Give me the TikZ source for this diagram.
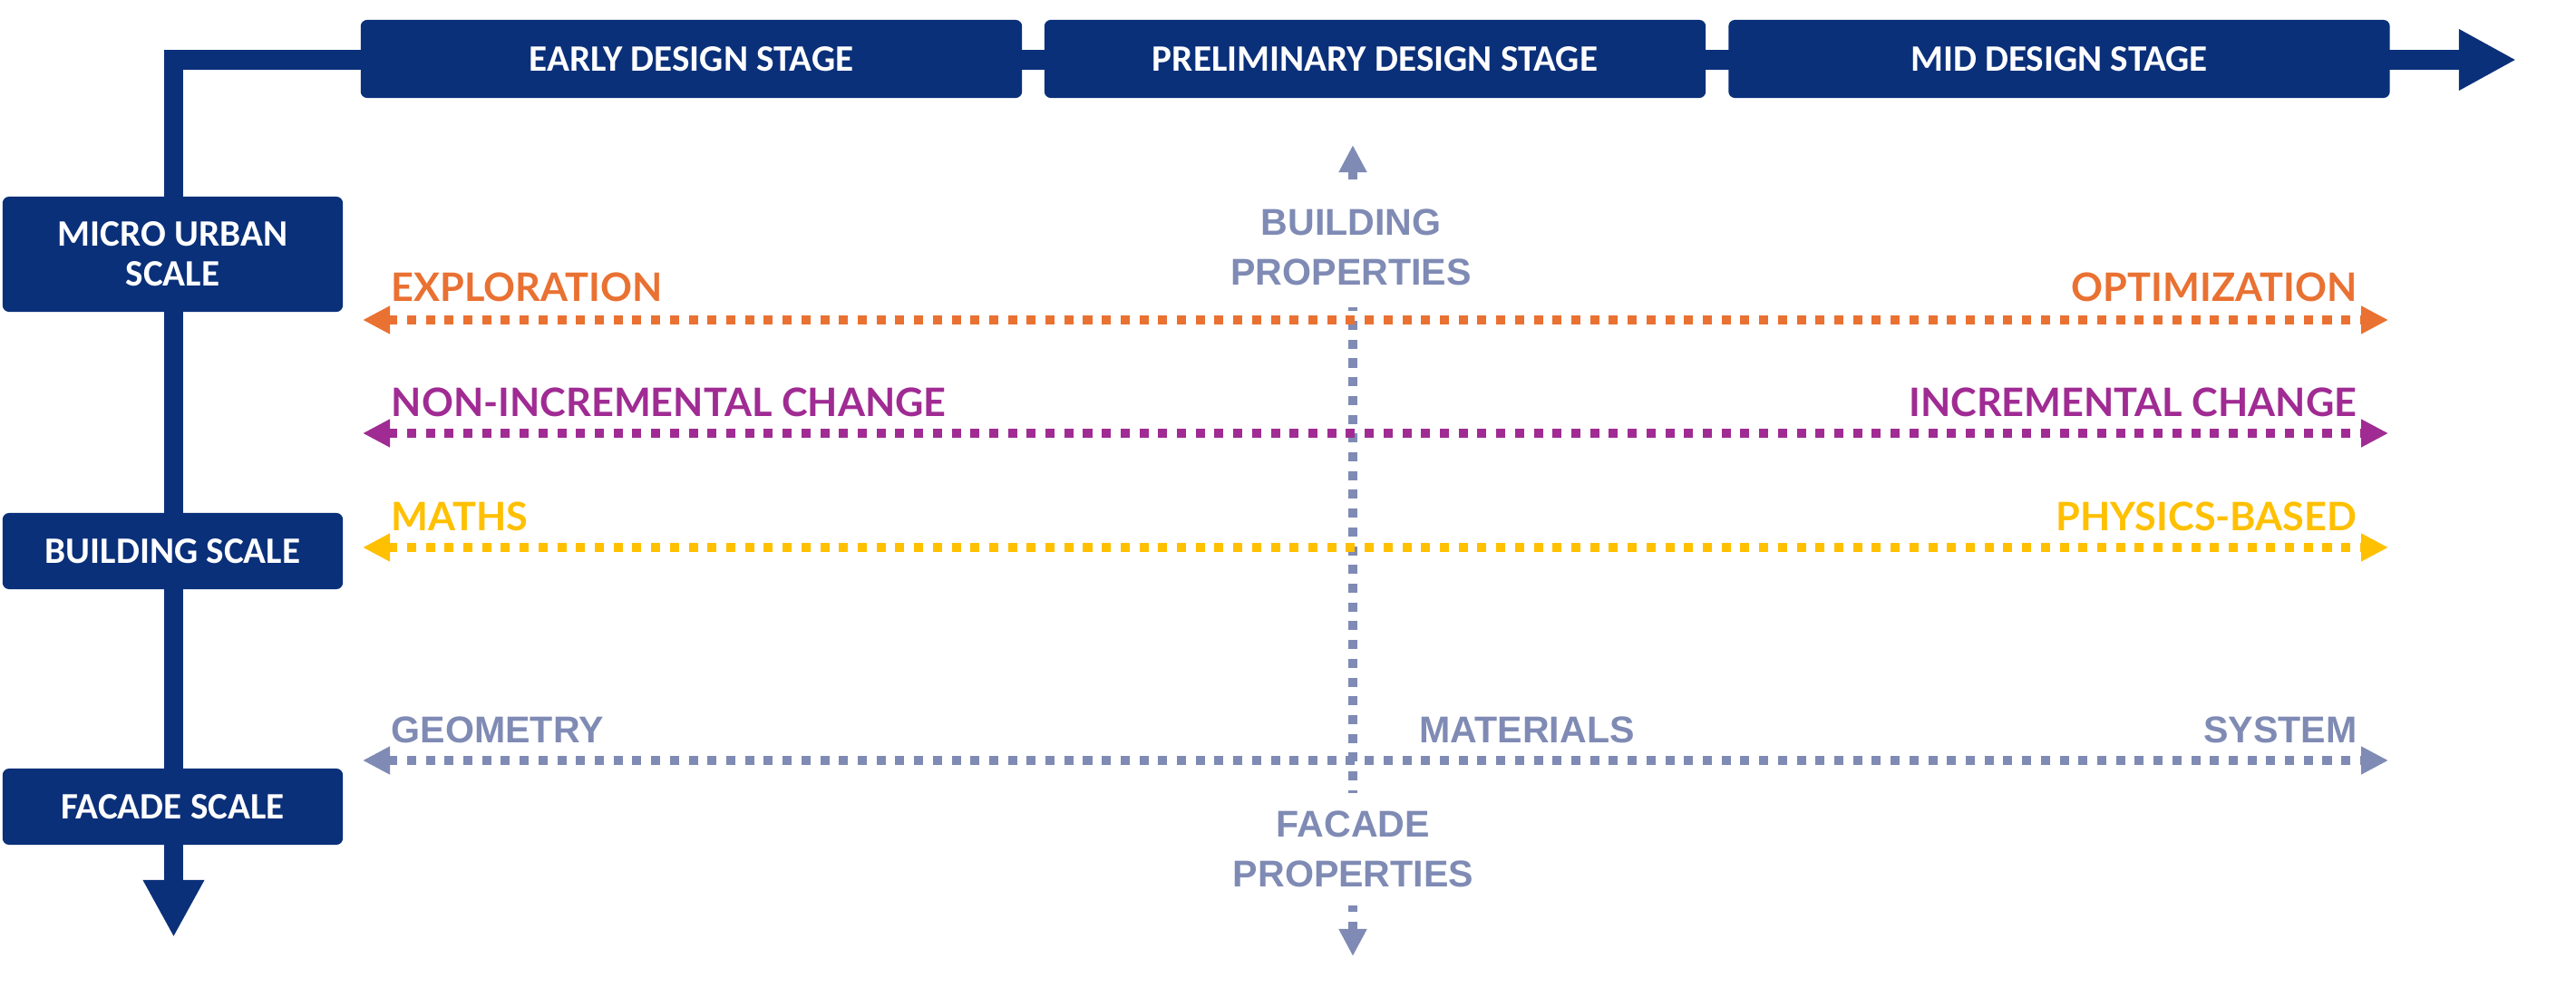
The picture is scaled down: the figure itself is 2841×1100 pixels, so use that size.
\documentclass[tikz,border=0pt]{standalone}
\usepackage{fontspec}
\usetikzlibrary{arrows.meta}
\newfontfamily\scalefont{Carlito}
\newfontfamily\trendfont{Lato}
\newfontfamily\propfont{Liberation Sans}
\definecolor{DNavy}{RGB}{11,48,122}
\definecolor{DGrey}{RGB}{127,139,180}
\definecolor{DOrange}{RGB}{233,113,50}
\definecolor{DPurple}{RGB}{160,43,147}
\definecolor{DYellow}{RGB}{255,192,0}

\begin{document}
\begin{tikzpicture}[x=0.01cm, y=-0.01cm,
      every node/.style={inner sep=0pt},
      stagebox/.style={fill=DNavy, rounded corners=2pt, text=white,
                       minimum width=7.29cm, minimum height=0.86cm, align=center,
                       font=\scalefont\bfseries\fontsize{11.7}{12.5}\selectfont},
      scalebox/.style={stagebox, minimum width=3.75cm, minimum height=0.84cm},
      axis/.style={DNavy, line width=0.21cm, line join=miter,
                   {Triangle[length=0.63cm, width=0.63cm]}-{Triangle[length=0.63cm, width=0.63cm]}},
      trend/.style={line width=0.1cm, dash pattern=on 0.1cm off 0.107cm,
                    {Triangle[length=0.3cm, width=0.29cm]}-{Triangle[length=0.3cm, width=0.29cm]}},
      tlbl/.style={font=\trendfont\bfseries\fontsize{12.3}{15}\selectfont},
      plbl/.style={font=\propfont\bfseries\fontsize{11.7}{15.6}\selectfont, text=DGrey},
    ]
      \useasboundingbox (0,0) rectangle (2841,1100);
      % Main axes: design stage (right) and scale (down)
      \coordinate (stageend) at (2775,66);
      \coordinate (corner) at (191.5,66);
      \coordinate (scaleend) at (191.5,1034);
      \draw[axis] (stageend) -- (corner) -- (scaleend);
      % Stage boxes
      \node[stagebox] (early) at (762.5,65) {EARLY DESIGN STAGE};
      \node[stagebox] (prelim) at (1516.5,65) {PRELIMINARY DESIGN STAGE};
      \node[stagebox] (mid) at (2271,65) {MID DESIGN STAGE};
      % Scale boxes
      \node[scalebox, minimum height=1.27cm] (micro) at (190.5,280.5) {MICRO URBAN\\SCALE};
      \node[scalebox] (bldg) at (190.5,608) {BUILDING SCALE};
      \node[scalebox] (facade) at (190.5,890) {FACADE SCALE};
      % Vertical axis: building vs facade properties
      \coordinate (ptop) at (1492,160);
      \coordinate (pbot) at (1492,1055);
      \draw[trend, DGrey] (pbot) -- (ptop);
      \node[plbl, fill=white, align=center, inner xsep=0.05cm, inner ysep=0.24cm] (bprop)
        at (1490,272.5) {BUILDING\\PROPERTIES};
      \node[plbl, fill=white, align=center, inner xsep=0.05cm, inner ysep=0.2cm] (fprop)
        at (1492.5,936.5) {FACADE\\PROPERTIES};
      % Exploration / optimization
      \coordinate (expL) at (400,353);
      \coordinate (expR) at (2634,353);
      \draw[trend, DOrange] (expL) -- (expR);
      \node[tlbl, text=DOrange, anchor=base west] (explo) at (431,332) {EXPLORATION};
      \node[tlbl, text=DOrange, anchor=base east] (optim) at (2600,332) {OPTIMIZATION};
      % Non-incremental / incremental change
      \coordinate (incL) at (400,478);
      \coordinate (incR) at (2634,478);
      \draw[trend, DPurple] (incL) -- (incR);
      \node[tlbl, text=DPurple, anchor=base west] (noninc) at (431,459) {NON-INCREMENTAL CHANGE};
      \node[tlbl, text=DPurple, anchor=base east] (inc) at (2600,459) {INCREMENTAL CHANGE};
      % Maths / physics-based
      \coordinate (mathL) at (400,604);
      \coordinate (mathR) at (2634,604);
      \draw[trend, DYellow] (mathL) -- (mathR);
      \node[tlbl, text=DYellow, anchor=base west] (maths) at (431,585) {MATHS};
      \node[tlbl, text=DYellow, anchor=base east] (phys) at (2600,585) {PHYSICS-BASED};
      % Geometry / materials / system
      \coordinate (geoL) at (400,839);
      \coordinate (geoR) at (2634,839);
      \draw[trend, DGrey] (geoL) -- (geoR);
      \node[plbl, anchor=base west] (geom) at (431,819) {GEOMETRY};
      \node[plbl, anchor=base west] (mater) at (1565,819) {MATERIALS};
      \node[plbl, anchor=base east] (system) at (2600,819) {SYSTEM};
    \end{tikzpicture}
\end{document}
